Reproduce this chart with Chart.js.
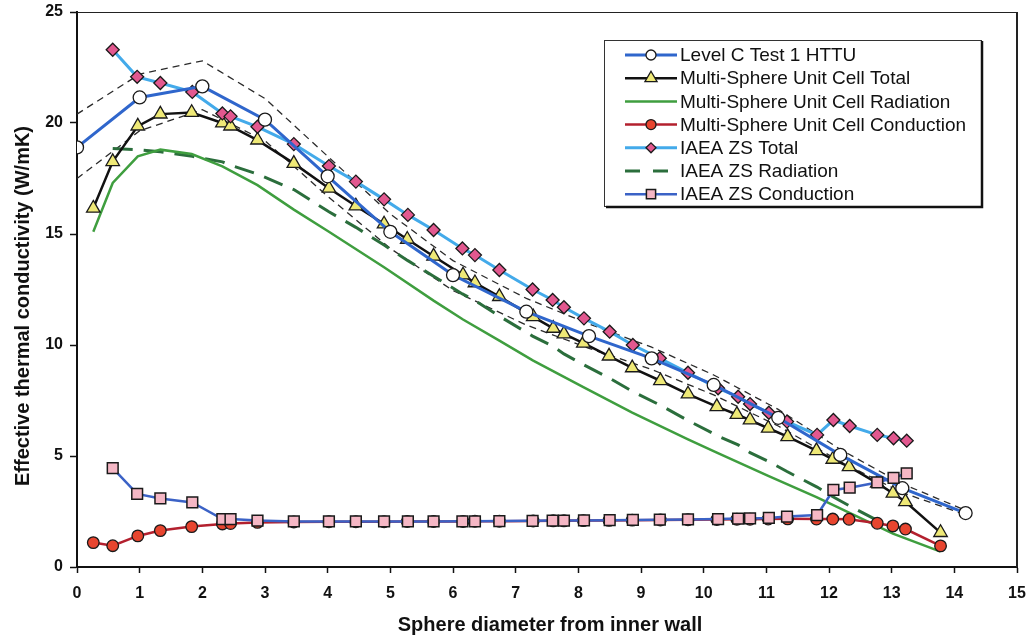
<!DOCTYPE html>
<html><head><meta charset="utf-8">
<script src="https://cdn.jsdelivr.net/npm/chart.js@4.4.0/dist/chart.umd.min.js"></script>
<style>html,body{margin:0;padding:0;background:#fff;}#wrap{width:1031px;height:641px;position:relative;}</style>
</head><body><div id="wrap"><canvas id="c" width="1031" height="641"></canvas></div>
<script>
// ---- data ----
const xTitle = 'Sphere diameter from inner wall';
const yTitle = 'Effective thermal conductivity (W/mK)';

const httuX = [0,1,2,3,4,5,6,7.17,8.17,9.17,10.16,11.19,12.18,13.17,14.18];
const httuY = [18.9,21.15,21.65,20.15,17.6,15.1,13.15,11.5,10.4,9.4,8.2,6.72,5.05,3.55,2.43];
const bandUpperY = [20.4,22.2,22.8,21.1,18.5,15.9,13.8,12.1,10.95,9.9,8.65,7.1,5.3,3.75,2.55];
const bandLowerY = [17.5,19.65,20.6,19.2,16.7,14.35,12.45,10.9,9.85,8.9,7.75,6.35,4.75,3.35,2.35];

const msX = [0.26,0.57,0.97,1.33,1.83,2.32,2.45,2.88,3.46,4.02,4.45,4.90,5.27,5.69,6.16,6.35,6.74,7.28,7.60,7.77,8.08,8.49,8.86,9.31,9.75,10.21,10.53,10.74,11.03,11.34,11.80,12.06,12.32,12.77,13.02,13.22,13.78];
const msTotalY = [16.16,18.26,19.86,20.4,20.47,20.0,19.86,19.23,18.18,17.06,16.26,15.45,14.76,14.0,13.15,12.8,12.18,11.27,10.75,10.5,10.08,9.5,8.97,8.39,7.79,7.22,6.87,6.62,6.25,5.87,5.24,4.85,4.52,3.78,3.32,2.94,1.55];
const msCondY = [1.1,0.96,1.4,1.64,1.82,1.94,1.96,2.01,2.03,2.04,2.04,2.04,2.05,2.05,2.05,2.06,2.06,2.07,2.08,2.08,2.09,2.1,2.11,2.12,2.13,2.14,2.15,2.15,2.16,2.17,2.16,2.16,2.15,1.97,1.85,1.71,0.95];
const msRadX = [0.26,0.57,0.97,1.33,1.83,2.32,2.88,3.46,4.02,4.90,5.69,6.16,6.74,7.28,8.08,8.86,9.75,10.21,11.03,11.80,12.32,13.02,13.78];
const msRadY = [15.1,17.3,18.5,18.8,18.6,18.05,17.2,16.1,15.1,13.5,12.0,11.15,10.2,9.3,8.1,6.95,5.75,5.15,4.1,3.15,2.45,1.5,0.69];

const zsX = [0.57,0.96,1.33,1.84,2.32,2.45,2.88,3.46,4.02,4.45,4.90,5.28,5.69,6.15,6.35,6.74,7.27,7.59,7.77,8.09,8.50,8.87,9.30,9.75,10.23,10.55,10.74,11.04,11.33,11.81,12.07,12.33,12.77,13.03,13.24];
const zsTotalY = [23.3,22.08,21.8,21.4,20.43,20.3,19.83,19.05,18.06,17.36,16.56,15.86,15.18,14.35,14.05,13.38,12.5,12.03,11.7,11.2,10.6,10.0,9.4,8.75,8.05,7.67,7.34,6.95,6.55,5.95,6.62,6.35,5.95,5.8,5.69];
const zsCondY = [4.45,3.29,3.09,2.91,2.16,2.16,2.09,2.05,2.05,2.05,2.05,2.05,2.05,2.06,2.06,2.07,2.08,2.09,2.09,2.1,2.11,2.12,2.13,2.14,2.16,2.18,2.19,2.21,2.27,2.34,3.47,3.57,3.81,4.02,4.22];
const zsRadX = [0.57,0.96,1.33,1.84,2.32,2.45,2.88,3.46,4.02,4.45,4.90,5.28,5.69,6.15,6.35,6.74,7.27,7.59,7.77,8.09,8.50,8.87,9.30,9.75,10.23,10.55,10.74,11.04,11.33,11.81,12.07,12.33,12.77];
const zsRadY = [18.85,18.8,18.7,18.5,18.25,18.1,17.7,17.0,16.0,15.3,14.5,13.8,13.1,12.3,12.0,11.3,10.4,9.95,9.6,9.1,8.5,7.9,7.3,6.6,5.9,5.5,5.15,4.75,4.3,3.6,3.15,2.75,2.1];

const seriesLabels = ['Level C Test 1 HTTU','Multi-Sphere Unit Cell Total','Multi-Sphere Unit Cell Radiation','Multi-Sphere Unit Cell Conduction','IAEA ZS Total','IAEA ZS Radiation','IAEA ZS Conduction'];

// ---- chart ----
const pts = (xs, ys) => xs.map((x, i) => ({x: x, y: ys[i]}));
const FONT = '"Liberation Sans", Arial, sans-serif';
const MK = '#1a1a1a';

const datasets = [
  {label: seriesLabels[0], data: pts(httuX, httuY), borderColor: '#2f66cc', borderWidth: 3,
   pointStyle: 'circle', pointRadius: 6.5, pointBackgroundColor: '#ffffff', pointBorderColor: MK, pointBorderWidth: 1.3, order: 1, legR: 5},
  {label: seriesLabels[1], data: pts(msX, msTotalY), borderColor: '#111111', borderWidth: 2.5,
   pointStyle: 'triangle', pointRadius: 7.8, pointBackgroundColor: '#efe977', pointBorderColor: MK, pointBorderWidth: 1.3, order: 3, legR: 7},
  {label: seriesLabels[2], data: pts(msRadX, msRadY), borderColor: '#3f9e3f', borderWidth: 2.5,
   pointRadius: 0, order: 5},
  {label: seriesLabels[3], data: pts(msX, msCondY), borderColor: '#b3202e', borderWidth: 2.5,
   pointStyle: 'circle', pointRadius: 5.8, pointBackgroundColor: '#e8452f', pointBorderColor: MK, pointBorderWidth: 1.3, order: 4, legR: 5},
  {label: seriesLabels[4], data: pts(zsX, zsTotalY), borderColor: '#43aaea', borderWidth: 3,
   pointStyle: 'rectRot', pointRadius: 6.5, pointBackgroundColor: '#e2588f', pointBorderColor: MK, pointBorderWidth: 1.3, order: 2, legR: 5},
  {label: seriesLabels[5], data: pts(zsRadX, zsRadY), borderColor: '#2b6e3c', borderWidth: 3, borderDash: [20, 11],
   pointRadius: 0, order: 6},
  {label: seriesLabels[6], data: pts(zsX, zsCondY), borderColor: '#3b62c6', borderWidth: 2.5,
   pointStyle: 'rect', pointRadius: 7.6, pointBackgroundColor: '#f5b7c5', pointBorderColor: MK, pointBorderWidth: 1.5, order: 0, legR: 6.5},
  {label: '', hideLegend: true, data: pts(httuX, bandUpperY), borderColor: '#2a2a2a', borderWidth: 1.3, borderDash: [7, 5], pointRadius: 0, order: 7},
  {label: '', hideLegend: true, data: pts(httuX, bandLowerY), borderColor: '#2a2a2a', borderWidth: 1.3, borderDash: [7, 5], pointRadius: 0, order: 8}
];
datasets.forEach(d => { d.tension = 0; d.fill = false; d.pointHoverRadius = d.pointRadius; });

const framePlugin = {
  id: 'frame',
  afterDraw(chart) {
    const {ctx, chartArea: a} = chart;
    ctx.save();
    ctx.strokeStyle = '#222';
    ctx.lineWidth = 1;
    ctx.beginPath(); ctx.moveTo(a.left, a.top + 0.5); ctx.lineTo(a.right, a.top + 0.5); ctx.stroke();
    ctx.lineWidth = 2;
    ctx.beginPath(); ctx.moveTo(a.right, a.top); ctx.lineTo(a.right, a.bottom); ctx.stroke();

    ctx.fillStyle = '#111';
    ctx.font = 'bold 20px ' + FONT;
    ctx.textAlign = 'center'; ctx.textBaseline = 'middle';
    ctx.fillText(xTitle, 550, 625);
    ctx.save();
    ctx.translate(23, 306); ctx.rotate(-Math.PI / 2);
    ctx.fillText(yTitle, 0, 0);
    ctx.restore();

    const L = 604, T = 40, R = 981, B = 206;
    ctx.fillStyle = '#fff';
    ctx.fillRect(L, T, R - L, B - T);
    ctx.strokeStyle = '#333'; ctx.lineWidth = 1;
    ctx.strokeRect(L + 0.5, T + 0.5, R - L, B - T);
    ctx.strokeStyle = '#111'; ctx.lineWidth = 2.5;
    ctx.beginPath(); ctx.moveTo(R + 1, T + 1); ctx.lineTo(R + 1, B + 1); ctx.lineTo(L + 2, B + 1); ctx.stroke();

    const items = chart.data.datasets.filter(d => !d.hideLegend);
    ctx.font = '19px ' + FONT;
    ctx.textAlign = 'left';
    items.forEach((d, i) => {
      const y = 55 + 23.2 * i;
      ctx.save();
      ctx.strokeStyle = d.borderColor; ctx.lineWidth = d.borderWidth;
      ctx.setLineDash(d.borderDash ? [15, 13] : []);
      ctx.beginPath(); ctx.moveTo(625, y); ctx.lineTo(677, y); ctx.stroke();
      ctx.setLineDash([]);
      if (d.pointRadius > 0) {
        ctx.fillStyle = d.pointBackgroundColor; ctx.strokeStyle = d.pointBorderColor; ctx.lineWidth = d.pointBorderWidth;
        Chart.helpers.drawPoint(ctx, {pointStyle: d.pointStyle, radius: d.legR, borderWidth: d.pointBorderWidth, rotation: 0}, 651, y);
      }
      ctx.restore();
      ctx.fillStyle = '#111';
      ctx.fillText(d.label, 680, y + 1);
    });
    ctx.restore();
  }
};

new Chart(document.getElementById('c'), {
  type: 'line',
  data: {datasets},
  options: {
    responsive: false, animation: false, events: [],
    layout: {padding: {left: 0, right: 14, top: 12, bottom: 0}},
    plugins: {legend: {display: false}, tooltip: {enabled: false}},
    scales: {
      x: {type: 'linear', min: 0, max: 15,
          ticks: {stepSize: 1, color: '#111', font: {family: FONT, size: 16, weight: 'bold'}, padding: 11, maxRotation: 0},
          grid: {drawOnChartArea: false, drawTicks: true, tickLength: 6, tickColor: '#111', tickWidth: 1.5},
          border: {display: true, color: '#111', width: 2},
          afterFit(s) { s.height = 74; s.paddingLeft = 0; s.paddingRight = 0; }},
      y: {type: 'linear', min: 0, max: 25,
          ticks: {stepSize: 5, color: '#111', font: {family: FONT, size: 16, weight: 'bold'}, padding: 7},
          grid: {drawOnChartArea: false, drawTicks: true, tickLength: 7, tickColor: '#111', tickWidth: 1.5},
          border: {display: true, color: '#111', width: 2},
          afterFit(s) { s.width = 77; s.paddingTop = 0; s.paddingBottom = 0; }}
    }
  },
  plugins: [framePlugin]
});
</script>
</body></html>
